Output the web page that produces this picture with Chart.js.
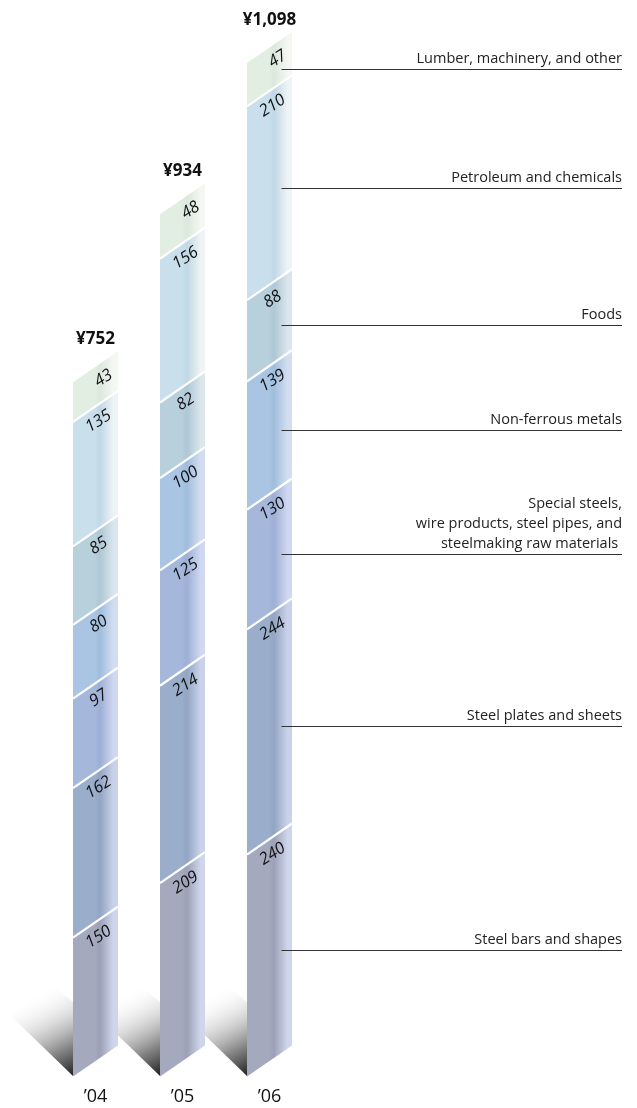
<!DOCTYPE html>
<html>
<head>
<meta charset="utf-8">
<script src="https://cdn.jsdelivr.net/npm/chart.js@4/dist/chart.umd.min.js"></script>
<style>
  html, body { margin: 0; padding: 0; background: #fff; }
  #wrap { width: 637px; height: 1108px; position: relative; }
</style>
</head>
<body>
<div id="wrap"><canvas id="chartSales"></canvas></div>
<script>
// Fiscal years
const years = ["\u201904", "\u201905", "\u201906"];

// Segment names, bottom to top
const segmentNames = [
    "Steel bars and shapes",
    "Steel plates and sheets",
    "Special steels,\nwire products, steel pipes, and\nsteelmaking raw materials ",
    "Non-ferrous metals",
    "Foods",
    "Petroleum and chemicals",
    "Lumber, machinery, and other"
];

// Values per segment for '04, '05, '06
const steelBars = [150, 209, 240];
const steelPlates = [162, 214, 244];
const specialSteels = [97, 125, 130];
const nonFerrous = [80, 100, 139];
const foods = [85, 82, 88];
const petroleum = [135, 156, 210];
const lumber = [43, 48, 47];

const seriesValues = [steelBars, steelPlates, specialSteels, nonFerrous, foods, petroleum, lumber];

// Fill colours: left side, darker middle band and light right side of each segment
const baseColors = ["#a4a9be", "#9aaecb", "#a6b7dc", "#a9c5e3", "#b8cfdc", "#c9dfec", "#e3eee3"];
const darkColors = ["#9ca1b7", "#92a5c3", "#9dafd5", "#a0bddd", "#afc7d5", "#c0d8e6", "#dbe8dc"];
const lightColors = ["#cfd5eb", "#cad2ea", "#d0d7f0", "#d2def0", "#dae5ec", "#eef3f5", "#f4f7f2"];

const totals = years.map((_, i) => seriesValues.reduce((s, arr) => s + arr[i], 0));

const SKEW = 0.69; // rise of the slanted top per pixel of bar width

const skewBarsPlugin = {
    id: "skewBars",
    afterDatasetsDraw(chart) {
        const ctx = chart.ctx;
        const nSeries = chart.data.datasets.length;

        // floor shadows behind each bar
        const firstMeta = chart.getDatasetMeta(0);
        firstMeta.data.forEach(el => {
            const left = el.x - el.width / 2;
            const yb = el.base;
            ctx.save();
            const g = ctx.createLinearGradient(left, yb, left - 42, yb - 80);
            g.addColorStop(0, "rgba(30,30,30,1)");
            g.addColorStop(0.3, "rgba(110,110,110,0.85)");
            g.addColorStop(1, "rgba(255,255,255,0)");
            ctx.fillStyle = g;
            ctx.beginPath();
            ctx.moveTo(left, yb);
            ctx.lineTo(left - 62, yb - 60);
            ctx.lineTo(left - 24, yb - 94);
            ctx.lineTo(left, yb - 74);
            ctx.closePath();
            ctx.fill();
            ctx.restore();
        });

        // segments
        for (let d = 0; d < nSeries; d++) {
            const meta = chart.getDatasetMeta(d);
            meta.data.forEach(el => {
                const w = el.width;
                const left = el.x - w / 2;
                const right = el.x + w / 2;
                const sk = w * SKEW;
                const g = ctx.createLinearGradient(left, 0, right, 0);
                g.addColorStop(0, baseColors[d]);
                g.addColorStop(0.48, baseColors[d]);
                g.addColorStop(0.6, darkColors[d]);
                g.addColorStop(0.9, lightColors[d]);
                g.addColorStop(1, lightColors[d]);
                ctx.save();
                ctx.fillStyle = g;
                ctx.beginPath();
                ctx.moveTo(left, el.base + 0.5);
                ctx.lineTo(right, el.base - sk + 0.5);
                ctx.lineTo(right, el.y - sk);
                ctx.lineTo(left, el.y);
                ctx.closePath();
                ctx.fill();
                ctx.restore();
            });
        }

        // white dividers
        for (let d = 0; d < nSeries - 1; d++) {
            const meta = chart.getDatasetMeta(d);
            meta.data.forEach(el => {
                const w = el.width;
                const sk = w * SKEW;
                ctx.save();
                ctx.strokeStyle = "#ffffff";
                ctx.lineWidth = 2.2;
                ctx.beginPath();
                ctx.moveTo(el.x - w / 2, el.y);
                ctx.lineTo(el.x + w / 2, el.y - sk);
                ctx.stroke();
                ctx.restore();
            });
        }

        // value labels along the slant
        const angle = -0.57;
        for (let d = 0; d < nSeries; d++) {
            const meta = chart.getDatasetMeta(d);
            meta.data.forEach((el, i) => {
                const w = el.width;
                const left = el.x - w / 2;
                const sk = w * SKEW;
                const cx = el.x + (d === nSeries - 1 ? 8 : 3);
                const cy = el.y - (cx - left) * sk / w + 17;
                ctx.save();
                ctx.translate(cx, cy);
                ctx.rotate(angle);
                ctx.font = "italic 16.5px 'Open Sans', sans-serif";
                ctx.fillStyle = "#111";
                ctx.textAlign = "center";
                ctx.textBaseline = "middle";
                ctx.fillText(String(chart.data.datasets[d].data[i]), 0, 0);
                ctx.restore();
            });
        }

        // totals above and years below each bar
        const topMeta = chart.getDatasetMeta(nSeries - 1);
        topMeta.data.forEach((el, i) => {
            const sk = el.width * SKEW;
            ctx.save();
            ctx.fillStyle = "#111";
            ctx.textAlign = "center";
            ctx.textBaseline = "alphabetic";
            ctx.font = "bold 17px 'Open Sans', sans-serif";
            ctx.fillText("\u00a5" + totals[i].toLocaleString("en-US"), el.x, el.y - sk - 7);
            ctx.font = "18px 'Open Sans', sans-serif";
            ctx.fillText(chart.data.labels[i], firstMeta.data[i].x, firstMeta.data[i].base + 26);
            ctx.restore();
        });

        // segment names with leader lines from the last bar
        const last = years.length - 1;
        const lineEnd = 622;
        for (let d = 0; d < nSeries; d++) {
            const el = chart.getDatasetMeta(d).data[last];
            const sk = el.width * SKEW;
            const ly = Math.round((el.y + el.base) / 2 - sk / 2) + 0.5;
            ctx.save();
            ctx.strokeStyle = "#333";
            ctx.lineWidth = 1;
            ctx.beginPath();
            ctx.moveTo(el.x + 12, ly);
            ctx.lineTo(lineEnd, ly);
            ctx.stroke();
            ctx.fillStyle = "#222";
            ctx.font = "14.5px 'Open Sans', sans-serif";
            ctx.textAlign = "right";
            ctx.textBaseline = "alphabetic";
            const lines = segmentNames[d].split("\n");
            lines.forEach((t, k) => {
                ctx.fillText(t, lineEnd, ly - 7 - (lines.length - 1 - k) * 20);
            });
            ctx.restore();
        }
    }
};

const datasets = seriesValues.map((vals, d) => ({
    label: segmentNames[d],
    data: vals,
    backgroundColor: "rgba(0,0,0,0)",
    borderWidth: 0,
    barThickness: 45
}));

new Chart(document.getElementById("chartSales").getContext("2d"), {
    type: "bar",
    data: { labels: years, datasets },
    options: {
        responsive: true,
        maintainAspectRatio: false,
        animation: false,
        layout: { padding: { left: 52, right: 324, top: 63, bottom: 32 } },
        plugins: { legend: { display: false }, tooltip: { enabled: false } },
        scales: {
            x: { stacked: true, display: false },
            y: { stacked: true, display: false, min: 0, max: Math.max(...totals) }
        }
    },
    plugins: [skewBarsPlugin]
});
</script>
</body>
</html>
